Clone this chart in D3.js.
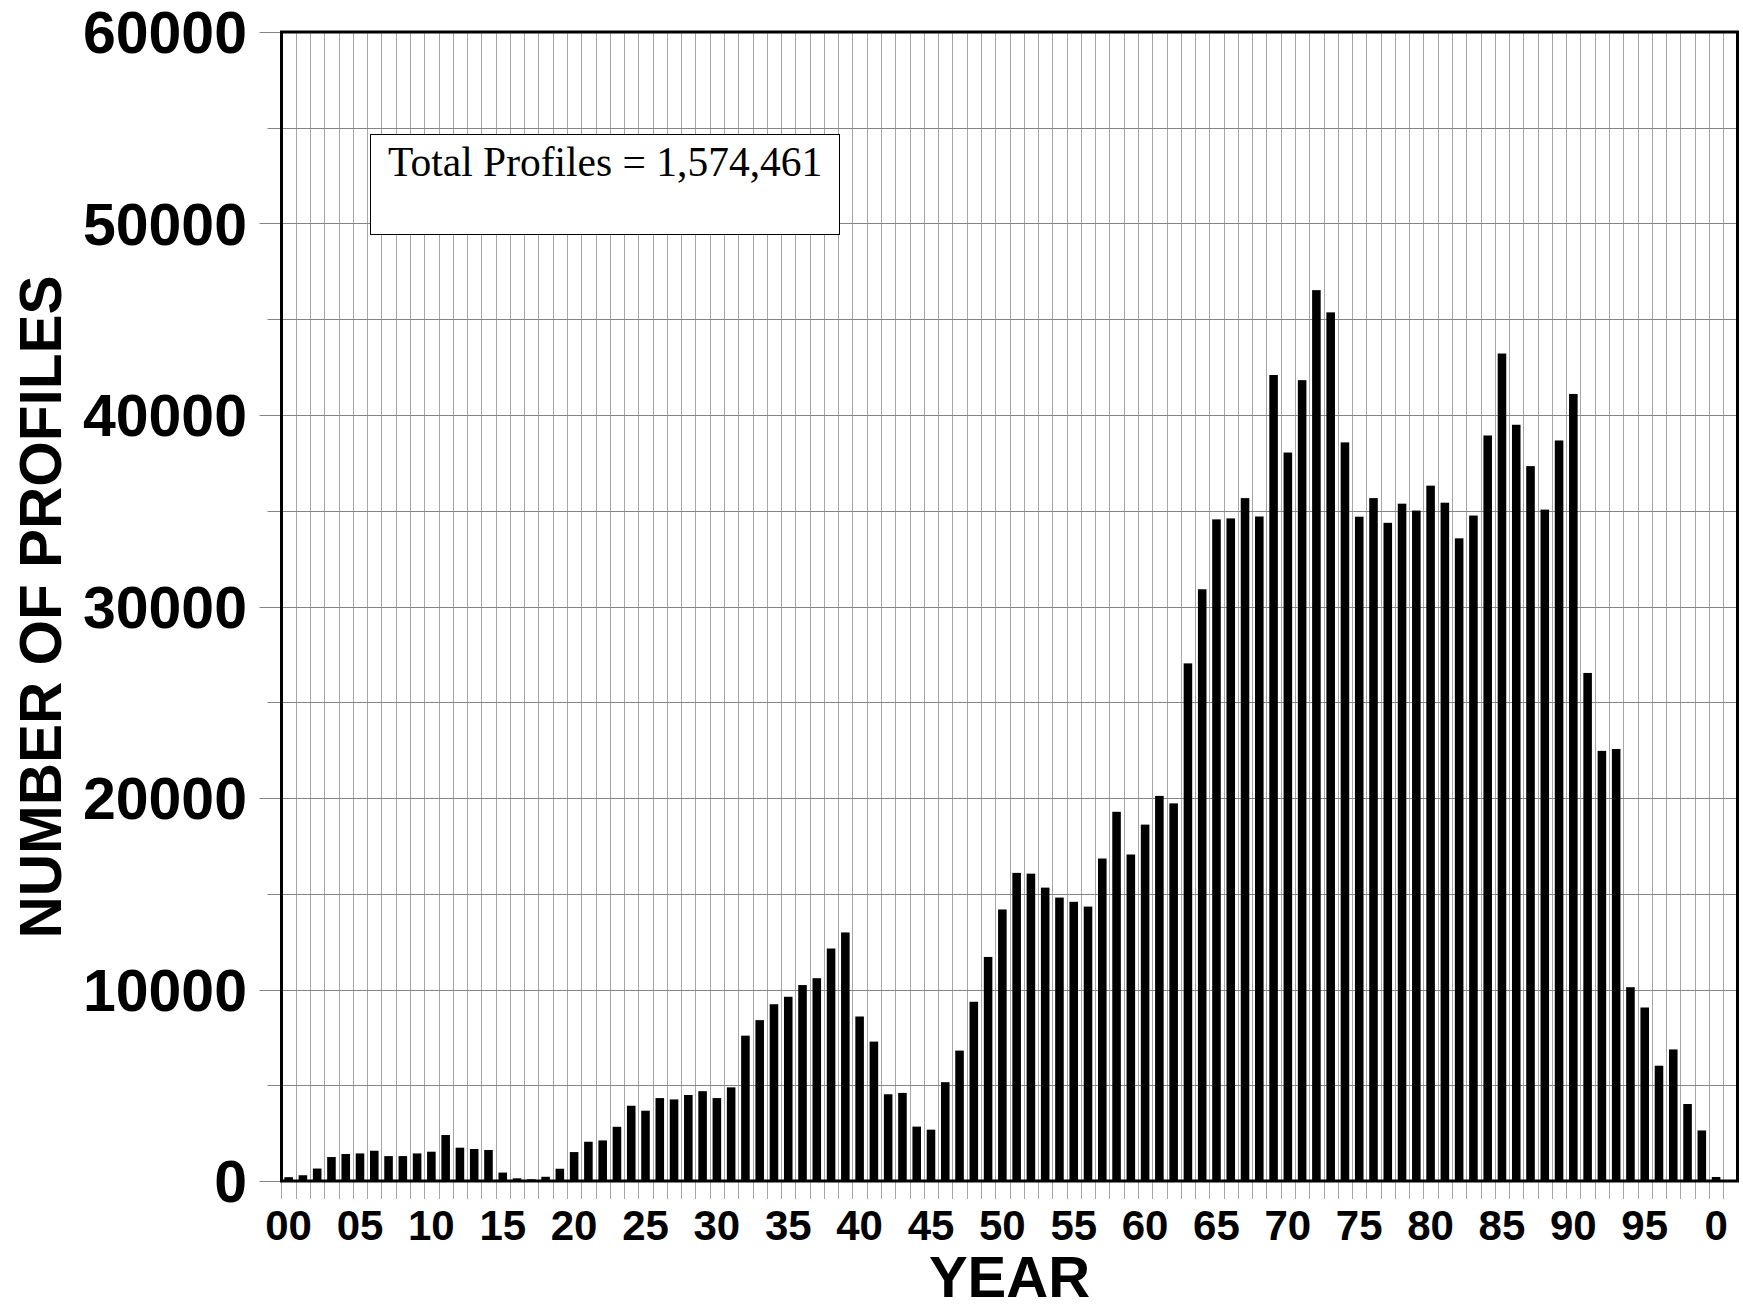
<!DOCTYPE html>
<html>
<head>
<meta charset="utf-8">
<script src="https://cdn.jsdelivr.net/npm/d3@7"></script>
<style>
  html, body { margin: 0; padding: 0; background: #fff; }
  svg { display: block; }
</style>
</head>
<body>
<svg id="chart" width="1743" height="1306"></svg>
<script>
// ---------------- DATA ----------------
const years = [
  1900,1901,1902,1903,1904,1905,1906,1907,1908,1909,
  1910,1911,1912,1913,1914,1915,1916,1917,1918,1919,
  1920,1921,1922,1923,1924,1925,1926,1927,1928,1929,
  1930,1931,1932,1933,1934,1935,1936,1937,1938,1939,
  1940,1941,1942,1943,1944,1945,1946,1947,1948,1949,
  1950,1951,1952,1953,1954,1955,1956,1957,1958,1959,
  1960,1961,1962,1963,1964,1965,1966,1967,1968,1969,
  1970,1971,1972,1973,1974,1975,1976,1977,1978,1979,
  1980,1981,1982,1983,1984,1985,1986,1987,1988,1989,
  1990,1991,1992,1993,1994,1995,1996,1997,1998,1999,
  2000
];
const profiles = [
  200,300,650,1250,1410,1440,1580,1300,1300,1440,
  1530,2400,1740,1670,1620,440,140,90,220,640,
  1510,2050,2120,2830,3930,3670,4330,4260,4490,4690,
  4330,4890,7590,8400,9230,9620,10230,10590,12140,12980,
  8590,7280,4530,4600,2840,2680,5160,6810,9360,11700,
  14180,16090,16050,15320,14800,14580,14330,16840,19280,17050,
  18610,20110,19720,27030,30900,34550,34600,35660,34700,42090,
  38040,41820,46520,45360,38570,34690,35660,34370,35370,35010,
  36310,35420,33560,34750,38930,43210,39490,37330,35060,38670,
  41100,26530,22460,22560,10120,9060,6020,6870,4020,2640,
  210
];
const xTickYears  = [1900,1905,1910,1915,1920,1925,1930,1935,1940,1945,1950,1955,1960,1965,1970,1975,1980,1985,1990,1995,2000];
const xTickLabels = ["00","05","10","15","20","25","30","35","40","45","50","55","60","65","70","75","80","85","90","95","0"];
const yTicks      = [0,10000,20000,30000,40000,50000,60000];
const yMinorTicks = [5000,15000,25000,35000,45000,55000];
const yMax = 60000;
const annotation = "Total Profiles = 1,574,461";
const xTitle = "YEAR";
const yTitle = "NUMBER OF PROFILES";

// ---------------- LAYOUT ----------------
const L = 281.5, R = 1737.5, T = 32, B = 1181;
const svg = d3.select("#chart");
const sans = "'Liberation Sans', Arial, Helvetica, sans-serif";
const serif = "'Liberation Serif', 'Times New Roman', serif";

// band domain includes one empty slot after 2000
const slots = years.concat([2001]);
const pad = 0.4;
const x = d3.scaleBand().domain(slots).range([L, R]).paddingInner(pad).paddingOuter(pad / 2);
const xLin = d3.scaleLinear().domain([1900, 1900 + slots.length]).range([L, R]);
const y = d3.scaleLinear().domain([0, yMax]).range([B, T]);

// vertical gridlines (one per year slot), extending below the axis as ticks
const vLines = d3.range(1, slots.length).map(i => 1900 + i);
svg.append("g").selectAll("line").data(vLines).join("line")
  .attr("x1", d => Math.round(xLin(d)) + 0.5).attr("x2", d => Math.round(xLin(d)) + 0.5)
  .attr("y1", T).attr("y2", B + 18)
  .attr("stroke", "#a6a6a6").attr("stroke-width", 1);
svg.append("line").attr("x1", L).attr("x2", L).attr("y1", B).attr("y2", B + 18)
  .attr("stroke", "#a6a6a6").attr("stroke-width", 1);

// horizontal gridlines
svg.append("g").selectAll("line").data(yTicks.concat(yMinorTicks)).join("line")
  .attr("x1", d => yTicks.includes(d) ? L - 22 : L - 14)
  .attr("x2", R)
  .attr("y1", d => Math.round(y(d)) + 0.5).attr("y2", d => Math.round(y(d)) + 0.5)
  .attr("stroke", "#858585").attr("stroke-width", 1);

// annotation box (covers gridlines)
svg.append("rect").attr("x", 370.5).attr("y", 134.5).attr("width", 469).attr("height", 100)
  .attr("fill", "#fff").attr("stroke", "#000").attr("stroke-width", 1);
svg.append("text").attr("x", 388).attr("y", 176)
  .attr("font-family", serif).attr("font-size", 41.5).attr("fill", "#000")
  .text(annotation);

// bars
svg.append("g").selectAll("rect").data(years.map((yr, i) => ({yr, v: profiles[i]}))).join("rect")
  .attr("x", d => x(d.yr)).attr("width", x.bandwidth())
  .attr("y", d => y(d.v)).attr("height", d => B - y(d.v))
  .attr("fill", "#000");

// frame
svg.append("rect").attr("x", L).attr("y", T).attr("width", R - L).attr("height", B - T)
  .attr("fill", "none").attr("stroke", "#000").attr("stroke-width", 3);

// y tick labels
svg.append("g").selectAll("text").data(yTicks).join("text")
  .attr("x", 247).attr("y", d => y(d)).attr("dy", "0.36em")
  .attr("text-anchor", "end")
  .attr("font-family", sans).attr("font-weight", "bold").attr("font-size", 59)
  .attr("fill", "#000").text(d => d);

// x tick labels
svg.append("g").selectAll("text").data(xTickYears).join("text")
  .attr("x", d => x(d) + x.bandwidth() / 2).attr("y", 1240)
  .attr("text-anchor", "middle")
  .attr("font-family", sans).attr("font-weight", "bold").attr("font-size", 42)
  .attr("fill", "#000").text((d, i) => xTickLabels[i]);

// axis titles
svg.append("text").attr("x", (L + R) / 2).attr("y", 1297)
  .attr("text-anchor", "middle")
  .attr("font-family", sans).attr("font-weight", "bold").attr("font-size", 58)
  .attr("fill", "#000").text(xTitle);

svg.append("text").attr("transform", "translate(61,607) rotate(-90)")
  .attr("text-anchor", "middle")
  .attr("font-family", sans).attr("font-weight", "bold").attr("font-size", 58.5)
  .attr("fill", "#000").text(yTitle);
</script>
</body>
</html>
